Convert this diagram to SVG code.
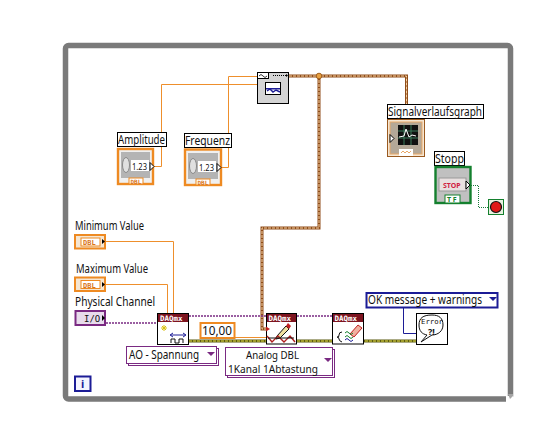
<svg xmlns="http://www.w3.org/2000/svg" width="550" height="429" viewBox="0 0 550 429">
<style>
text{font-family:"Noto Sans","Liberation Sans",Arial,sans-serif;font-size:12px;fill:#111}
.lbl{fill:#fff;stroke:#000;stroke-width:1}
.ow{fill:none;stroke:#ee8f2c;stroke-width:1}
.dyn{fill:none;stroke:#8f4d1a;stroke-width:3}
.dyn2{fill:none;stroke:#f6d2a2;stroke-width:1;stroke-dasharray:3 1}
.pw{fill:none;stroke:#7a2a82;stroke-width:1.400;stroke-dasharray:2 1}
.bx{fill:#fff;stroke:#000;stroke-width:1}
.hd{fill:#7d1420}
.ht{font-family:"DejaVu Sans Mono",monospace;font-size:7.500px;font-weight:bold;fill:#fff}
.or{fill:#f0f0f0;stroke:#ee8a22;stroke-width:2.400}
.inner{fill:#b4b4b4}
.dbl{font-family:"DejaVu Sans Mono",monospace;font-size:8px;font-weight:bold;fill:#d9761a}
</style>
<rect x="65.500" y="45.500" width="445" height="353.500" rx="3" fill="#fff" stroke="#7a7a7a" stroke-width="5.500"/>
<path d="M506 396 l7 0 l0 7 l-7 0z" fill="#fff"/>
<path d="M508 394 l5 0 l0 2 l-3 3z" fill="#a5a5a5"/>

<g id="connectors">
<path class="ow" d="M154 166.500H161.500V84.500H257"/>
<path class="ow" d="M222 167.500H228.500V76.500H257"/>
<path class="ow" d="M106 241.500H173.500V313"/>
<path class="ow" d="M106 284.500H167.500V313"/>
<path class="ow" d="M235 337.500H266"/>
<path class="dyn" d="M289 76H406.500V104"/>
<path class="dyn2" d="M289 76H406.500V104"/>
<path class="dyn" d="M319 76V228H262V329H266"/>
<path class="dyn2" d="M319 76V228H262V329H266"/>
<path class="pw" d="M106 323H157"/>
<path class="pw" d="M189 316H266M297 316H332"/>
<path d="M189 341H416" fill="none" stroke="#5a5a10" stroke-width="3"/>
<path d="M189 341H416" fill="none" stroke="#e8e048" stroke-width="1" stroke-dasharray="3 1"/>
<path d="M403.500 308V333.500H416" fill="none" stroke="#1c1c96" stroke-width="1"/>
<path d="M469 185.500H478.500V207.500H488" fill="none" stroke="#1c7a3c" stroke-width="1" stroke-dasharray="1 1"/>
<circle cx="319" cy="76" r="2.800" fill="#e8a040" stroke="#a0601f"/>
</g>

<g id="build-waveform">
<rect x="257.500" y="72.500" width="31" height="31" fill="#d4d4d4" stroke="#000"/>
<rect x="257.500" y="72.500" width="11" height="6" fill="#fff" stroke="#000"/>
<path d="M259 76q2 -3 4 0t4 0" fill="none" stroke="#000" stroke-width="0.800"/>
<path d="M273 75.500H286" stroke="#000" stroke-dasharray="1 1" fill="none"/>
<path d="M286 74l2 1.500l-2 1.500z" fill="#000"/>
<rect x="265.500" y="82.500" width="15" height="12" fill="#fff" stroke="#000"/>
<rect x="266" y="88" width="14" height="1.500" fill="#1c1c96"/>
<path d="M267 91l3 -2l3 3l3 -2l4 2" fill="none" stroke="#1c1c96" stroke-width="1.500"/>
</g>

<g id="amplitude">
<rect class="lbl" x="117.500" y="132.500" width="49" height="14"/>
<text x="118" y="144" textLength="47" lengthAdjust="spacingAndGlyphs">Amplitude</text>
<rect class="or" x="118" y="149" width="35" height="35"/>
<rect class="inner" x="121" y="152" width="29" height="26"/>
<ellipse cx="126" cy="165" rx="3.500" ry="7.500" fill="#e0e0e0" stroke="#888"/>
<rect x="131" y="160" width="18" height="11" fill="#fff"/>
<text x="132" y="169.500" style="font-size:9.500px" textLength="15" lengthAdjust="spacingAndGlyphs">1.23</text>
<path d="M150 162.500v8l4 -4z" fill="#fff" stroke="#000"/>
<rect x="129" y="178" width="14" height="6" fill="#fff" stroke="#ee8a22"/>
<text class="dbl" x="130.500" y="183.500" style="font-size:6px">DBL</text>
</g>

<g id="frequenz">
<rect class="lbl" x="184.500" y="133.500" width="47" height="14"/>
<text x="185" y="145" textLength="45" lengthAdjust="spacingAndGlyphs">Frequenz</text>
<rect class="or" x="185" y="149.500" width="36" height="35.500"/>
<rect class="inner" x="188" y="153" width="30" height="26"/>
<ellipse cx="193" cy="166" rx="3.500" ry="7.500" fill="#e0e0e0" stroke="#888"/>
<rect x="198" y="161" width="18" height="11" fill="#fff"/>
<text x="199" y="170.500" style="font-size:9.500px" textLength="15" lengthAdjust="spacingAndGlyphs">1.23</text>
<path d="M217 163.500v8l4 -4z" fill="#fff" stroke="#000"/>
<rect x="196" y="179" width="14" height="6" fill="#fff" stroke="#ee8a22"/>
<text class="dbl" x="197.500" y="184.500" style="font-size:6px">DBL</text>
</g>

<g id="signalverlaufsgraph">
<rect class="lbl" x="387.500" y="104.500" width="96" height="14"/>
<text x="388" y="116" textLength="94" lengthAdjust="spacingAndGlyphs">Signalverlaufsgraph</text>
<rect x="387.500" y="119.500" width="37" height="37" fill="#f5e6d2" stroke="#9a5a20"/>
<rect x="390" y="122" width="32" height="32" fill="#b4a898" stroke="#e8a868"/>
<rect x="398" y="125" width="20" height="20" fill="#111"/>
<path d="M398 131h20M398 138h20M404 125v20M411 125v20" stroke="#3a7a5a" fill="none"/>
<path d="M399 137l5 -1l2 -7l3 8l3 -2l4 1" stroke="#fff" fill="none"/>
<path d="M390 134.500v8l4 -4z" fill="#fff" stroke="#000"/>
<rect x="399" y="149" width="14" height="7" fill="#fff"/>
<path d="M401 153l2 -2l2 2l2 -2l2 2l2 -2" stroke="#e8a868" fill="none"/>
</g>

<g id="stopp">
<rect class="lbl" x="434.500" y="151.500" width="30" height="14"/>
<text x="435" y="163" textLength="29" lengthAdjust="spacingAndGlyphs">Stopp</text>
<rect x="435.500" y="167" width="35" height="36" fill="#c0c0c0" stroke="#14802e" stroke-width="2.400"/>
<rect x="439" y="178" width="27" height="13" fill="#e8e0e0" stroke="#999"/>
<text x="443" y="188" style="font-size:7px;font-weight:bold;fill:#d02040">STOP</text>
<path d="M466 181v8l4 -4z" fill="#fff" stroke="#000"/>
<rect x="445" y="195" width="15" height="8" fill="#fff" stroke="#14802e"/>
<text x="447" y="202" style="font-size:7px;fill:#14802e;font-weight:bold">T F</text>
</g>

<g id="loop-stop">
<rect x="488.500" y="199.500" width="15" height="15" fill="#e8f0e0" stroke="#14802e"/>
<circle cx="496" cy="207" r="5.500" fill="#e01818" stroke="#111" stroke-width="1.200"/>
</g>

<g id="minimum-value">
<text x="75" y="230" textLength="69" lengthAdjust="spacingAndGlyphs">Minimum Value</text>
<rect x="75" y="235" width="30" height="13.500" fill="#f5e6d2" stroke="#ee8a22" stroke-width="2"/>
<rect x="81" y="238" width="19" height="8" fill="#fff" stroke="#ee8a22"/>
<text class="dbl" x="83" y="245" style="font-size:7px">DBL</text>
<path d="M102 239v5l3 -2.500z" fill="#000"/>
</g>
<g id="maximum-value">
<text x="76" y="273" textLength="72" lengthAdjust="spacingAndGlyphs">Maximum Value</text>
<rect x="75" y="277.500" width="30" height="13.500" fill="#f5e6d2" stroke="#ee8a22" stroke-width="2"/>
<rect x="81" y="280.500" width="19" height="8" fill="#fff" stroke="#ee8a22"/>
<text class="dbl" x="83" y="287.500" style="font-size:7px">DBL</text>
<path d="M102 282v5l3 -2.500z" fill="#000"/>
</g>
<g id="physical-channel">
<text x="75" y="306" textLength="80" lengthAdjust="spacingAndGlyphs">Physical Channel</text>
<rect x="75.500" y="311" width="29.500" height="14" fill="#e8dcec" stroke="#7a2a82" stroke-width="2"/>
<text x="84" y="321.500" style="font-family:'DejaVu Sans Mono',monospace;font-size:9px">I/O</text>
<path d="M102 315v6l3 -3z" fill="#000"/>
</g>

<g id="daq-create">
<rect class="bx" x="157.500" y="313.500" width="31" height="31"/>
<rect class="hd" x="158" y="314" width="30" height="8"/>
<text class="ht" x="160" y="320.500">DAQmx</text>
<path d="M164 325v6M161 328h6M162 326l4 4M166 326l-4 4" stroke="#d8c010" fill="none"/>
<path d="M171 335h14" stroke="#1c1c96" fill="none"/>
<path d="M173 333l-3 2l3 2M183 333l3 2l-3 2" stroke="#1c1c96" fill="none"/>
<path d="M171 343v-4h4v4h4v-4h4v4" stroke="#111" fill="none"/>
</g>

<g id="constant-10">
<rect x="200.500" y="323" width="34" height="15" fill="#fff" stroke="#ee8a22" stroke-width="2"/>
<text x="202" y="335" textLength="30" lengthAdjust="spacingAndGlyphs">10,00</text>
</g>

<g id="daq-write">
<rect class="bx" x="266.500" y="313.500" width="30" height="30.500"/>
<rect class="hd" x="267" y="314" width="29" height="8"/>
<text class="ht" x="268.500" y="320.500">DAQmx</text>
<path d="M277 336l9 -10l3 3l-9 9l-4 1z" fill="#f0e0a0" stroke="#111"/>
<path d="M286 326l2 -3l3 3l-2 3z" fill="#c02020"/>
<path d="M267 336l5 6l6 -6l6 6l6 -6l5 6" stroke="#b02020" fill="none" stroke-width="1.400"/>
<path d="M268 338h26" stroke="#111" fill="none"/>
<path d="M266 326.500l4 2.500l-4 2.500z" fill="#c02020"/>
</g>

<g id="daq-clear">
<rect class="bx" x="332.500" y="313.500" width="31" height="30.500"/>
<rect class="hd" x="333" y="314" width="30" height="8"/>
<text class="ht" x="334.500" y="320.500">DAQmx</text>
<path d="M350 334l8 -9l4 3l-8 9z" fill="#f0b0a0" stroke="#c02020"/>
<path d="M342 332q-3 0 -3 3t-2 2q2 0 2 2t3 3" stroke="#111" fill="none"/>
<path d="M345 333q2 -3 4 0t4 0M345 337q2 -3 4 0t4 0" stroke="#14802e" fill="none"/>
<path d="M345 340q2 -3 4 0t4 0" stroke="#1c1c96" fill="none"/>
</g>

<g id="error-handler">
<rect class="bx" x="416.500" y="313.500" width="31" height="31"/>
<path d="M432 315c-9 0 -13 3 -13 10c0 6 3 9 8 10l-6 7l11 -7c6 0 11 -4 11 -10c0 -7 -4 -10 -11 -10z" fill="#fff" stroke="#111"/>
<text x="421" y="323.500" textLength="22" lengthAdjust="spacingAndGlyphs" style="font-family:'DejaVu Sans Mono',monospace;font-size:7px">Error</text>
<text x="428" y="335" style="font-size:9px;font-weight:bold">?!</text>
</g>

<g id="ok-message">
<rect x="366.500" y="293" width="131" height="14.500" fill="#fff" stroke="#1c1c96" stroke-width="2"/>
<text x="368" y="304" textLength="114" lengthAdjust="spacingAndGlyphs">OK message + warnings</text>
<path d="M489 297h8l-4 4z" fill="#1c1c96"/>
</g>

<g id="ao-spannung">
<rect x="128.500" y="348.500" width="90" height="17" fill="#fff" stroke="#7a2a82"/>
<rect x="126.500" y="346.500" width="90" height="17" fill="#fff" stroke="#7a2a82"/>
<text x="129" y="359" textLength="70" lengthAdjust="spacingAndGlyphs">AO - Spannung</text>
<path d="M207 352h8l-4 4z" fill="#7a2a82"/>
</g>

<g id="analog-dbl">
<rect x="227.500" y="349.500" width="107" height="28" fill="#fff" stroke="#7a2a82"/>
<rect x="225.500" y="347.500" width="107" height="28" fill="#fff" stroke="#7a2a82"/>
<text x="246" y="358.500" textLength="53" lengthAdjust="spacingAndGlyphs" style="font-size:10.500px">Analog DBL</text>
<text x="228" y="372.500" textLength="90" lengthAdjust="spacingAndGlyphs" style="font-size:10.500px">1Kanal 1Abtastung</text>
<path d="M324 358h8l-4 4z" fill="#7a2a82"/>
</g>

<g id="iteration">
<rect x="75" y="376.500" width="15.500" height="14.500" fill="#f4f4ff" stroke="#1c1c96" stroke-width="2"/>
<text x="81" y="388" style="font-weight:bold;fill:#1c1c96;font-size:11px">i</text>
</g>
</svg>
